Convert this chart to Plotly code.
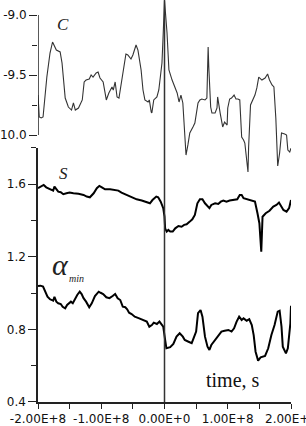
import plotly.graph_objects as go

# time in units of 1e8 s
t_C = [-2.00, -1.98, -1.95, -1.92, -1.86, -1.81, -1.77, -1.74, -1.71, -1.65, -1.62, -1.57, -1.52, -1.47,
       -1.44, -1.41, -1.36, -1.30, -1.27, -1.24, -1.19, -1.16, -1.13, -1.08, -1.05, -1.02, -0.97, -0.92,
       -0.88, -0.83, -0.81, -0.78, -0.75, -0.72, -0.65, -0.61, -0.58, -0.53, -0.50, -0.45, -0.42, -0.37,
       -0.34, -0.31, -0.26, -0.24, -0.21, -0.20, -0.17, -0.12, -0.09, -0.04, -0.02, 0.00, 0.04, 0.07,
       0.12, 0.17, 0.20, 0.23, 0.26, 0.29, 0.31, 0.34, 0.37, 0.40, 0.45, 0.48, 0.53, 0.56, 0.59, 0.64,
       0.67, 0.69, 0.70, 0.73, 0.75, 0.80, 0.83, 0.84, 0.88, 0.91, 0.92, 0.95, 0.99, 1.00, 1.03, 1.06,
       1.10, 1.13, 1.16, 1.19, 1.22, 1.25, 1.27, 1.32, 1.33, 1.36, 1.40, 1.43, 1.46, 1.49, 1.54, 1.59,
       1.63, 1.66, 1.70, 1.73, 1.76, 1.77, 1.79, 1.82, 1.85, 1.90, 1.93, 1.95, 1.98, 2.00]
C = [-9.667, -9.85, -9.858, -9.85, -9.517, -9.317, -9.225, -9.267, -9.292, -9.308, -9.40, -9.692, -9.767, -9.792,
     -9.733, -9.792, -9.775, -9.708, -9.558, -9.542, -9.533, -9.50, -9.517, -9.483, -9.475, -9.525, -9.558, -9.708,
     -9.65, -9.60, -9.625, -9.558, -9.683, -9.692, -9.442, -9.325, -9.333, -9.367, -9.333, -9.25, -9.292, -9.458,
     -9.625, -9.708, -9.725, -9.708, -9.808, -9.817, -9.708, -9.683, -9.625, -9.40, -9.15, -8.88, -9.15, -9.458,
     -9.542, -9.608, -9.65, -9.725, -9.667, -9.733, -9.933, -10.167, -10.083, -9.983, -9.933, -9.90, -9.733, -9.708, -9.70, -9.708,
     -9.692, -9.267, -9.433, -9.767, -9.817, -9.817, -9.775, -9.683, -9.817, -9.933, -9.933, -9.892, -9.917, -9.775, -9.70, -9.692,
     -9.667, -9.70, -9.70, -9.708, -10.017, -10.042, -10.067, -10.308, -10.10, -9.75, -9.708, -9.667, -9.608, -9.517, -9.542, -9.525,
     -9.492, -9.542, -9.583, -9.60, -9.858, -10.067, -10.258, -10.15, -9.983, -9.992, -10.0, -10.125, -10.142, -10.11]

t_S = [-2.00, -1.96, -1.91, -1.87, -1.83, -1.79, -1.76, -1.74, -1.71, -1.68, -1.64, -1.60, -1.55, -1.50,
       -1.44, -1.36, -1.28, -1.23, -1.18, -1.12, -1.07, -1.03, -0.99, -0.94, -0.86, -0.78, -0.73, -0.68,
       -0.60, -0.52, -0.44, -0.36, -0.28, -0.23, -0.19, -0.13, -0.10, -0.06, -0.02, 0.00, 0.01, 0.035,
       0.06, 0.09, 0.13, 0.17, 0.22, 0.27, 0.31, 0.35, 0.40, 0.44, 0.48, 0.52, 0.56, 0.60, 0.64, 0.68,
       0.71, 0.74, 0.80, 0.85, 0.89, 0.93, 0.98, 1.03, 1.09, 1.15, 1.19, 1.22, 1.25, 1.31, 1.38, 1.43,
       1.47, 1.50, 1.53, 1.55, 1.60, 1.66, 1.72, 1.77, 1.81, 1.85, 1.88, 1.93, 1.97, 2.00]
S = [1.578, 1.587, 1.596, 1.583, 1.578, 1.569, 1.565, 1.587, 1.572, 1.559, 1.556, 1.545, 1.550, 1.554,
     1.550, 1.548, 1.541, 1.532, 1.528, 1.550, 1.578, 1.591, 1.583, 1.572, 1.572, 1.569, 1.565, 1.554,
     1.541, 1.526, 1.517, 1.510, 1.499, 1.495, 1.513, 1.532, 1.528, 1.504, 1.468, 1.421, 1.357, 1.339,
     1.348, 1.339, 1.339, 1.357, 1.370, 1.366, 1.376, 1.379, 1.394, 1.407, 1.431, 1.495, 1.517, 1.517, 1.495, 1.482,
     1.468, 1.486, 1.495, 1.491, 1.504, 1.510, 1.504, 1.510, 1.513, 1.517, 1.541, 1.541, 1.523, 1.517, 1.510, 1.504,
     1.440, 1.385, 1.228, 1.421, 1.440, 1.454, 1.477, 1.486, 1.499, 1.477, 1.458, 1.449, 1.468, 1.513]

t_A = [-2.00, -1.96, -1.92, -1.88, -1.85, -1.81, -1.76, -1.74, -1.71, -1.68, -1.64, -1.61, -1.57, -1.54,
       -1.51, -1.48, -1.45, -1.41, -1.38, -1.34, -1.31, -1.28, -1.24, -1.19, -1.15, -1.10, -1.04, -1.01,
       -0.97, -0.92, -0.87, -0.82, -0.78, -0.74, -0.70, -0.66, -0.62, -0.59, -0.56, -0.52, -0.47, -0.40,
       -0.33, -0.28, -0.24, -0.20, -0.17, -0.12, -0.08, -0.04, -0.02, 0.01, 0.03, 0.09, 0.14, 0.19,
       0.24, 0.29, 0.32, 0.38, 0.43, 0.45, 0.50, 0.53, 0.57, 0.60, 0.64, 0.68, 0.71, 0.74, 0.80, 0.85,
       0.90, 0.95, 1.01, 1.06, 1.10, 1.14, 1.18, 1.22, 1.25, 1.30, 1.34, 1.38, 1.41, 1.44, 1.48, 1.52,
       1.59, 1.64, 1.69, 1.74, 1.79, 1.82, 1.85, 1.87, 1.92, 1.95, 1.99, 2.00]
A = [1.039, 1.041, 1.036, 1.008, 0.980, 0.966, 0.958, 0.980, 0.953, 0.944, 0.940, 0.925, 0.916, 0.935,
     0.944, 0.953, 0.944, 0.972, 0.990, 1.008, 0.995, 0.972, 0.953, 0.922, 0.944, 0.984, 1.008, 1.002,
     0.995, 0.977, 0.972, 0.984, 0.995, 0.972, 0.962, 0.925, 0.922, 0.911, 0.892, 0.885, 0.870, 0.861,
     0.852, 0.843, 0.815, 0.824, 0.837, 0.830, 0.843, 0.824, 0.815, 0.742, 0.696, 0.702, 0.720, 0.760,
     0.779, 0.760, 0.742, 0.732, 0.724, 0.742, 0.788, 0.889, 0.907, 0.870, 0.760, 0.705, 0.687, 0.714, 0.742, 0.760,
     0.788, 0.793, 0.797, 0.788, 0.806, 0.843, 0.870, 0.852, 0.861, 0.848, 0.856, 0.824, 0.769, 0.677, 0.628, 0.646,
     0.654, 0.696, 0.769, 0.824, 0.898, 0.903, 0.815, 0.705, 0.668, 0.696, 0.834, 0.93]

x_tickvals = [-2, -1, 0, 1, 2]
x_ticktext = ["-2.00E+8", "-1.00E+8", "0.00E+0", "1.00E+8", "2.00E+8"]
x_minor = [-1.5, -0.5, 0.5, 1.5]
c_tickvals = [-9.0, -9.5, -10.0]
c_ticktext = ["-9.0", "-9.5", "-10.0"]
c_minor = [-9.25, -9.75]
s_tickvals = [0.4, 0.8, 1.2, 1.6]
s_ticktext = ["0.4", "0.8", "1.2", "1.6"]
s_minor = [0.6, 1.0, 1.4, 1.8]

AX = "#222222"
tickfont = dict(family="DejaVu Sans", size=12, color="#111111")

fig = go.Figure()
fig.add_trace(go.Scatter(x=t_C, y=C, mode="lines", line=dict(color="#333333", width=1.1),
                         xaxis="x", yaxis="y2", showlegend=False))
fig.add_trace(go.Scatter(x=t_S, y=S, mode="lines", line=dict(color="#000000", width=2),
                         xaxis="x", yaxis="y", showlegend=False))
fig.add_trace(go.Scatter(x=t_A, y=A, mode="lines", line=dict(color="#000000", width=2),
                         xaxis="x", yaxis="y", showlegend=False))

fig.update_layout(
    template="none",
    width=306, height=426,
    margin=dict(l=38, r=15, t=0, b=24, pad=0),
    paper_bgcolor="white", plot_bgcolor="rgba(0,0,0,0)",
    showlegend=False,
    xaxis=dict(range=[-2, 2], domain=[0, 1], anchor="y", showline=True, linecolor=AX, linewidth=1.5,
               showgrid=False, zeroline=False, ticks="outside", ticklen=5, tickwidth=1.2, tickcolor=AX,
               tickmode="array", tickvals=x_tickvals, ticktext=x_ticktext, tickfont=tickfont,
               ticklabeloverflow="allow",
               minor=dict(tickmode="array", tickvals=x_minor, ticks="outside", ticklen=5, tickwidth=1.2,
                          tickcolor=AX, showgrid=False),
               automargin=False),
    yaxis=dict(range=[0.4, 1.8], domain=[0, 0.632], anchor="x", showline=True, linecolor=AX, linewidth=1.5,
               showgrid=False, zeroline=False, ticks="outside", ticklen=8, tickwidth=1.2, tickcolor=AX,
               tickmode="array", tickvals=s_tickvals, ticktext=s_ticktext, tickfont=tickfont,
               ticklabeloverflow="allow",
               minor=dict(tickmode="array", tickvals=s_minor, ticks="outside", ticklen=5, tickwidth=1.2,
                          tickcolor=AX, showgrid=False),
               automargin=False),
    yaxis2=dict(range=[-12.225, -8.875], domain=[0, 1], anchor="x", showline=False,
                showgrid=False, zeroline=False, ticks="outside", ticklen=8, tickwidth=1.2, tickcolor=AX,
                tickmode="array", tickvals=c_tickvals, ticktext=c_ticktext, tickfont=tickfont,
                ticklabeloverflow="allow",
                minor=dict(tickmode="array", tickvals=c_minor, ticks="outside", ticklen=5, tickwidth=1.2,
                           tickcolor=AX, showgrid=False),
                automargin=False),
)

# upper axis line (only spans -9 .. -10)
fig.add_shape(type="line", xref="x", yref="y2", x0=-2, x1=-2, y0=-9.0, y1=-10.0,
              line=dict(color=AX, width=1.5))
# vertical line at t = 0
fig.add_shape(type="line", xref="x", yref="paper", x0=0, x1=0, y0=0, y1=1,
              line=dict(color="#333333", width=1.5))

serif = "Liberation Serif"
fig.add_annotation(x=-1.60, y=-9.075, xref="x", yref="y2", text="<i>C</i>", showarrow=False,
                   font=dict(family=serif, size=17, color="#222"))
fig.add_annotation(x=-1.60, y=1.657, xref="x", yref="y", text="<i>S</i>", showarrow=False,
                   font=dict(family=serif, size=17, color="#222"))
fig.add_annotation(x=-1.64, y=1.155, xref="x", yref="y", text="<i>α</i>", showarrow=False,
                   font=dict(family=serif, size=30, color="#222"))
fig.add_annotation(x=-1.39, y=1.08, xref="x", yref="y", text="<i>min</i>", showarrow=False,
                   font=dict(family=serif, size=10, color="#222"))
fig.add_annotation(x=1.08, y=0.52, xref="x", yref="y", text="time, s", showarrow=False,
                   font=dict(family=serif, size=20, color="#111"))

fig.write_html("out.html")
